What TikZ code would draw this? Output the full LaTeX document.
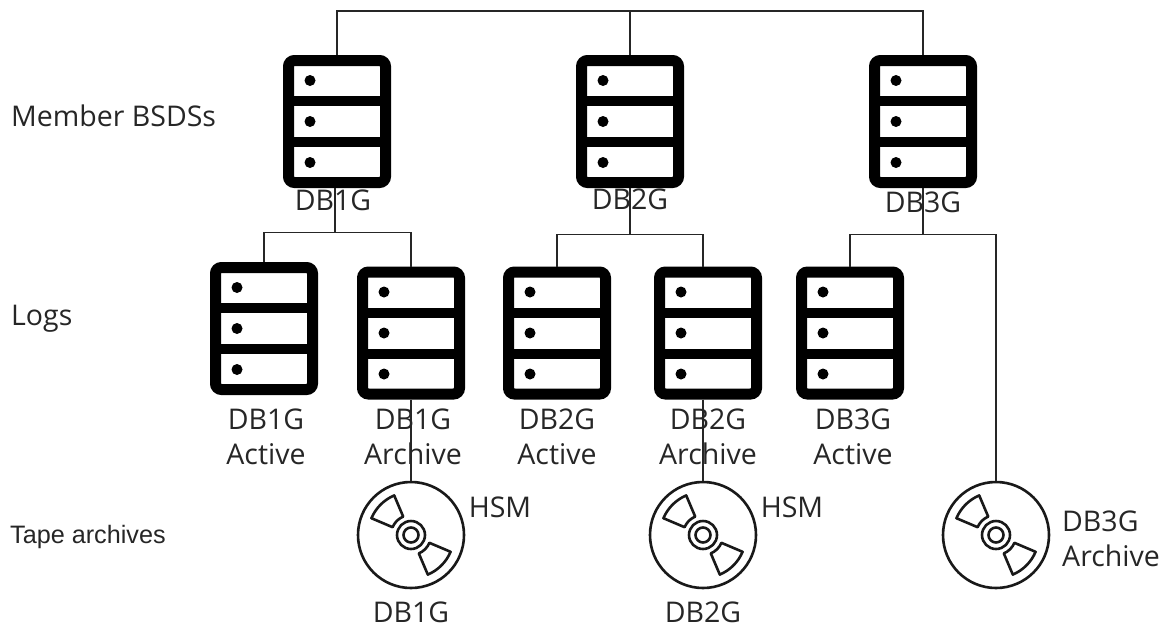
\documentclass[tikz,border=0pt]{standalone}
\usepackage{fontspec}
\setmainfont{Open Sans}
\newfontfamily\tapefont{Liberation Sans}
\tikzset{
    serverbox/.style={draw=black, line width=11pt, rounded corners=6pt, fill=white, minimum width=97pt, minimum height=122pt, inner sep=0pt},
    discbox/.style={circle, draw=black!90, line width=2.6pt, fill=white, minimum size=106pt, inner sep=0pt},
    ringline/.style={draw=black!90, line width=2.6pt},
    wire/.style={draw=black!85, line width=1.6pt},
    lbl/.style={font=\fontsize{28.5}{35}\selectfont, text=black!85, inner sep=0pt, align=center},
    sidelbl/.style={lbl, anchor=west},
}
\begin{document}
\begin{tikzpicture}[x=1pt, y=-1pt]
    \def\server#1#2#3{
        \node[serverbox] (#1) at (#2,#3) {};
        \fill[black] (#2-48,#3-25.5) rectangle (#2+48,#3-15.5);
        \fill[black] (#2-48,#3+15.5) rectangle (#2+48,#3+25.5);
        \foreach \dy in {-41,0,41} \fill[black] (#2-27,#3+\dy) circle (5.5pt);
    }
    \def\disc#1#2#3{
        \node[discbox] (#1) at (#2,#3) {};
        \draw[ringline] (#2,#3) circle (14pt);
        \draw[ringline] (#2,#3) circle (7.5pt);
        \foreach \a in {0,180}
            \draw[ringline, line join=round, shift={(#2,#3)}] (113+\a:43pt) arc[start angle=113+\a, end angle=157+\a, radius=43pt] -- (157+\a:20pt) arc[start angle=157+\a, end angle=113+\a, radius=20pt] -- cycle;
    }
    \useasboundingbox (0,0) rectangle (1164,627);

    % member BSDSs
    \server{srvDBA}{337}{121.5}
    \server{srvDBB}{630}{121.5}
    \server{srvDBC}{923}{121.5}
    % logs
    \server{logAA}{264}{328.5}
    \server{logAB}{411}{333}
    \server{logBA}{557}{333}
    \server{logBB}{708}{333}
    \server{logCA}{850}{333}
    % tapes
    \disc{tapeA}{411}{535}
    \disc{tapeB}{703}{535}
    \disc{tapeC}{996}{535}

    % labels
    \node[sidelbl] (lblMember) at (11,116) {Member BSDSs};
    \node[sidelbl] (lblLogs) at (11,319) {Logs};
    \node[sidelbl, font=\tapefont\fontsize{25.2}{30}\selectfont, anchor=west] (lblTape) at (10,537) {Tape archives};
    \node[lbl] (nameA) at (333,200) {DB1G};
    \node[lbl] (nameB) at (630,199) {DB2G};
    \node[lbl] (nameC) at (923,202) {DB3G};
    \node[lbl] (nameAA) at (266,437) {DB1G\\Active};
    \node[lbl] (nameAB) at (413,437) {DB1G\\Archive};
    \node[lbl] (nameBA) at (557,437) {DB2G\\Active};
    \node[lbl] (nameBB) at (708,437) {DB2G\\Archive};
    \node[lbl] (nameCA) at (853,437) {DB3G\\Active};
    \node[lbl] (hsmA) at (500,507) {HSM};
    \node[lbl] (hsmB) at (792,507) {HSM};
    \node[lbl] (tapeNameA) at (411,612) {DB1G};
    \node[lbl] (tapeNameB) at (703,612) {DB2G};
    \node[lbl, align=left, anchor=west] (tapeNameC) at (1062,539) {DB3G\\Archive};

    % connectors
    \coordinate (topA) at (337,11);
    \coordinate (topB) at (630,11);
    \coordinate (topC) at (923,11);
    \draw[wire] (srvDBA.north) -- (topA) -- (topC) -- (srvDBC.north);
    \draw[wire] (topB) -- (srvDBB.north);
    \coordinate (busA) at (335,232.5);
    \coordinate (busAL) at (264,232.5);
    \coordinate (busAR) at (411,232.5);
    \draw[wire] (srvDBA.south -| busA) -- (busA);
    \draw[wire] (logAA.north) -- (busAL) -- (busAR) -- (logAB.north);
    \coordinate (busB) at (630,234.5);
    \coordinate (busBL) at (557,234.5);
    \coordinate (busBR) at (703,234.5);
    \draw[wire] (srvDBB.south) -- (busB);
    \draw[wire] (logBA.north) -- (busBL) -- (busBR) -- (logBB.north -| busBR);
    \coordinate (busC) at (923,234.5);
    \coordinate (busCL) at (850,234.5);
    \coordinate (busCR) at (996,234.5);
    \draw[wire] (srvDBC.south) -- (busC);
    \draw[wire] (logCA.north) -- (busCL) -- (busCR) -- (tapeC.north);
    \draw[wire] (logAB.south) -- (tapeA.north);
    \draw[wire] (logBB.south -| tapeB.north) -- (tapeB.north);
\end{tikzpicture}
\end{document}
